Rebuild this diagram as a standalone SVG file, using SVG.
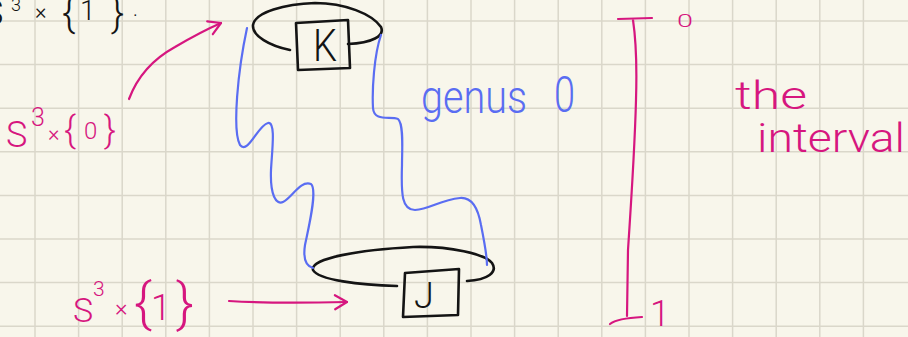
<svg xmlns="http://www.w3.org/2000/svg" width="908" height="337" viewBox="0 0 908 337">
  <defs>
    <marker id="pinkHead" viewBox="0 0 20 20" refX="16" refY="10" markerWidth="20" markerHeight="20" markerUnits="userSpaceOnUse" orient="auto">
      <path d="M4,3 L16,10 L4,17" fill="none" stroke="#d6167f" stroke-width="2.2" stroke-linecap="round" stroke-linejoin="round"/>
    </marker>
  </defs>
  <style>
    .ink { fill: none; stroke: #141414; stroke-width: 2.6; stroke-linecap: round; stroke-linejoin: round; }
    .blue { fill: none; stroke: #5a6df2; stroke-width: 2.2; stroke-linecap: round; stroke-linejoin: round; }
    .pink { fill: none; stroke: #d6167f; stroke-width: 2.2; stroke-linecap: round; stroke-linejoin: round; }
    .hand { font-family: Roboto, "Liberation Sans", sans-serif; font-weight: 300; }
    .tk { fill: #141414; }
    .tb { fill: #5a6df2; }
    .tp { fill: #d6167f; }
  </style>

  <!-- paper -->
  <rect width="908" height="337" fill="#f8f6eb"/>
  <path stroke="#dad7ca" stroke-width="1.5" fill="none"
        d="M35,0V337 M78.6,0V337 M122.2,0V337 M165.8,0V337 M209.4,0V337 M253,0V337 M296.6,0V337 M340.2,0V337 M383.8,0V337 M427.4,0V337 M471,0V337 M514.6,0V337 M558.2,0V337 M601.8,0V337 M645.4,0V337 M689,0V337 M732.6,0V337 M776.2,0V337 M819.8,0V337 M863.4,0V337
           M0,21H908 M0,64.6H908 M0,108.2H908 M0,151.8H908 M0,195.4H908 M0,239H908 M0,282.6H908 M0,326.2H908"/>

  <!-- label running off the top edge -->
  <text class="hand tk" font-size="36"><tspan x="-18" y="25">S</tspan><tspan x="11" y="11" font-size="18">3</tspan><tspan x="35" y="19" font-size="22">×</tspan><tspan x="62" y="26" font-size="40">{</tspan><tspan x="80" y="20" font-size="28">1</tspan><tspan x="111" y="26" font-size="40">}</tspan><tspan x="133" y="16" font-size="20">.</tspan></text>

  <!-- knot K in the top sphere -->
  <g id="node-K">
    <path class="ink" d="M290,50 C270,46 252,36 253,25 C255,12 285,4 315,3 C345,3 372,14 381,27 C385,36 372,43 348,44"/>
    <path class="ink" d="M296,23 L348,20 L350,68 L298,70 Z"/>
    <text class="hand tk" x="313" y="61" font-size="45" textLength="24" lengthAdjust="spacingAndGlyphs">K</text>
  </g>

  <!-- knot J in the bottom sphere -->
  <g id="node-J">
    <path class="ink" d="M397,286 C360,285 318,280 313,270 C310,258 360,250 413,247 C450,246 485,254 492,263 C498,272 488,280 467,281"/>
    <path class="ink" d="M405,273 L459,269 L458,315 L403,317 Z"/>
    <text class="hand tk" x="414" y="308" font-size="36">J</text>
  </g>

  <!-- genus 0 surface and arrows -->
  <g id="connectors">
    <path class="blue" d="M247,28 C238,70 232,130 240,145 C248,155 258,125 268,123 C276,122 272,150 271,170 C270,195 276,205 283,202 C292,198 300,180 311,184 C318,190 308,230 305,245 C303,258 306,266 313,268"/>
    <path class="blue" d="M381,35 C374,55 372,90 373,108 C374,122 390,116 398,119 C404,124 402,150 402,165 C401,195 402,210 415,210 C430,209 440,200 460,198 C472,197 478,208 481,225 C485,245 487,255 487,265"/>
    <path class="pink" marker-end="url(#pinkHead)" d="M129,99 C138,75 155,58 175,47 C192,37 205,30 221,23"/>
    <path class="pink" marker-end="url(#pinkHead)" d="M229,301 C260,303 300,303 347,302"/>
  </g>

  <text class="hand tb" x="421" y="113" font-size="46" textLength="106" lengthAdjust="spacingAndGlyphs">genus</text>
  <text class="hand tb" x="554" y="112" font-size="50" textLength="21" lengthAdjust="spacingAndGlyphs">0</text>

  <!-- sphere labels -->
  <text class="hand tp" font-size="36"><tspan x="6" y="147">S</tspan><tspan x="31" y="126" font-size="25">3</tspan><tspan x="48" y="141" font-size="22">×</tspan><tspan x="64" y="142" font-size="36">{</tspan><tspan x="84" y="139" font-size="24">0</tspan><tspan x="104" y="142" font-size="36">}</tspan></text>
  <text class="hand tp" font-size="34"><tspan x="73" y="322">S</tspan><tspan x="93" y="296" font-size="21">3</tspan><tspan x="115" y="316" font-size="24">×</tspan><tspan x="134" y="321" font-size="54">{</tspan><tspan x="151" y="320" font-size="36">1</tspan><tspan x="176" y="321" font-size="54">}</tspan></text>

  <!-- the interval [0,1] -->
  <path class="pink" d="M618,19 L652,18 M633,20 C636,40 637,67 636,100 C635,140 632,190 628,250 L627,316 M610,324 C615,320 623,318 642,317"/>
  <text class="hand tp" x="677" y="27" font-size="19" textLength="16" lengthAdjust="spacingAndGlyphs">0</text>
  <text class="hand tp" x="650" y="326" font-size="36">1</text>
  <text class="hand tp" x="735" y="109" font-size="38" textLength="72" lengthAdjust="spacingAndGlyphs">the</text>
  <text class="hand tp" x="757" y="152" font-size="40" textLength="148" lengthAdjust="spacingAndGlyphs">interval</text>
</svg>
